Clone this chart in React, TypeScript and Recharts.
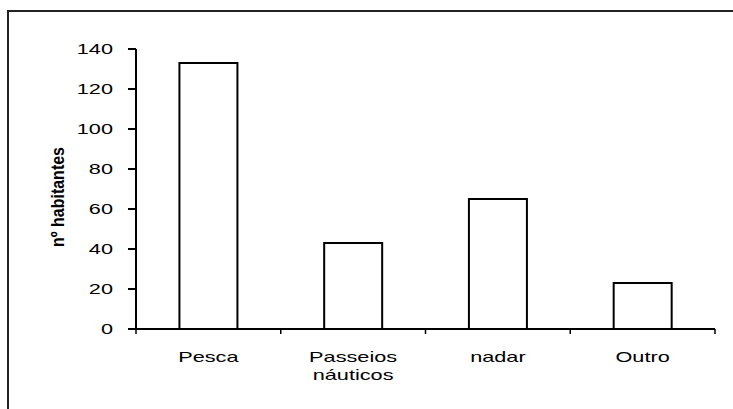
import React from "react";
import { BarChart, Bar, XAxis, YAxis } from "recharts";

const categories = ["Pesca", "Passeios náuticos", "nadar", "Outro"];
const habitantes = [133, 43, 65, 23];
const yTicks = [0, 20, 40, 60, 80, 100, 120, 140];
const yLabel = "nº habitantes";

const data = categories.map((name, i) => ({ name, value: habitantes[i] }));

const FONT = "'Liberation Sans', Arial, Helvetica, sans-serif";
const STRETCH = 1.55;

// excel style: tick marks sit on the category boundaries, not the centres
function CategoryTick(props: any) {
  const { x, y, payload, index, visibleTicksCount, width } = props;
  const n = visibleTicksCount || categories.length;
  const band = width / n;
  const lines = String(payload.value).split(" ");
  return (
    <g transform={`translate(${x},${y})`}>
      <line x1={-band / 2} x2={-band / 2} y1={0} y2={5} stroke="#000" strokeWidth={1.5} />
      {index === n - 1 && (
        <line x1={band / 2} x2={band / 2} y1={0} y2={5} stroke="#000" strokeWidth={1.5} />
      )}
      {lines.map((line: string, i: number) => (
        <text
          key={i}
          x={0}
          y={33 + i * 18}
          transform={`scale(${STRETCH},1)`}
          textAnchor="middle"
          fontSize={14}
          fontFamily={FONT}
          fill="#000"
        >
          {line}
        </text>
      ))}
    </g>
  );
}

function ValueTick(props: any) {
  const { x, y, payload } = props;
  return (
    <g transform={`translate(${x},${y})`}>
      <text
        x={0}
        y={0}
        dy="0.36em"
        transform={`scale(${STRETCH},1)`}
        textAnchor="end"
        fontSize={14}
        fontFamily={FONT}
        fill="#000"
      >
        {payload.value}
      </text>
    </g>
  );
}

// axis title, plus the outer chart-area frame (top and left edges only)
function AxisTitle(props: any) {
  const vb = props.viewBox || { x: 0, y: 0, width: 0, height: 0 };
  const cx = vb.x + 64;
  const cy = vb.y + vb.height / 2 + 8;
  return (
    <g>
      <path d="M8,420 L8,11 L740,11" fill="none" stroke="#222" strokeWidth={2} />
      <g transform={`translate(${cx},${cy}) scale(1.2,1) rotate(-90)`}>
        <text
          x={0}
          y={0}
          textAnchor="middle"
          fontSize={16}
          fontWeight="bold"
          fontFamily={FONT}
          fill="#000"
        >
          {yLabel}
        </text>
      </g>
    </g>
  );
}

export default function App() {
  return (
    <div style={{ position: "absolute", left: 0, top: 0, width: 733, height: 409, background: "#fff" }}>
      <BarChart
        width={733}
        height={409}
        data={data}
        margin={{ top: 49, right: 18, left: 0, bottom: 0 }}
        barCategoryGap="30%"
      >
        <XAxis
          dataKey="name"
          height={80}
          interval={0}
          stroke="#000"
          strokeWidth={2}
          tickLine={false}
          tickSize={0}
          tickMargin={0}
          tick={<CategoryTick />}
        />
        <YAxis
          width={136}
          domain={[0, 140]}
          ticks={yTicks}
          stroke="#000"
          strokeWidth={2}
          tickSize={8}
          tickMargin={15}
          tick={<ValueTick />}
          label={<AxisTitle />}
        />
        <Bar dataKey="value" fill="#fff" stroke="#000" strokeWidth={2} isAnimationActive={false} />
      </BarChart>
    </div>
  );
}
